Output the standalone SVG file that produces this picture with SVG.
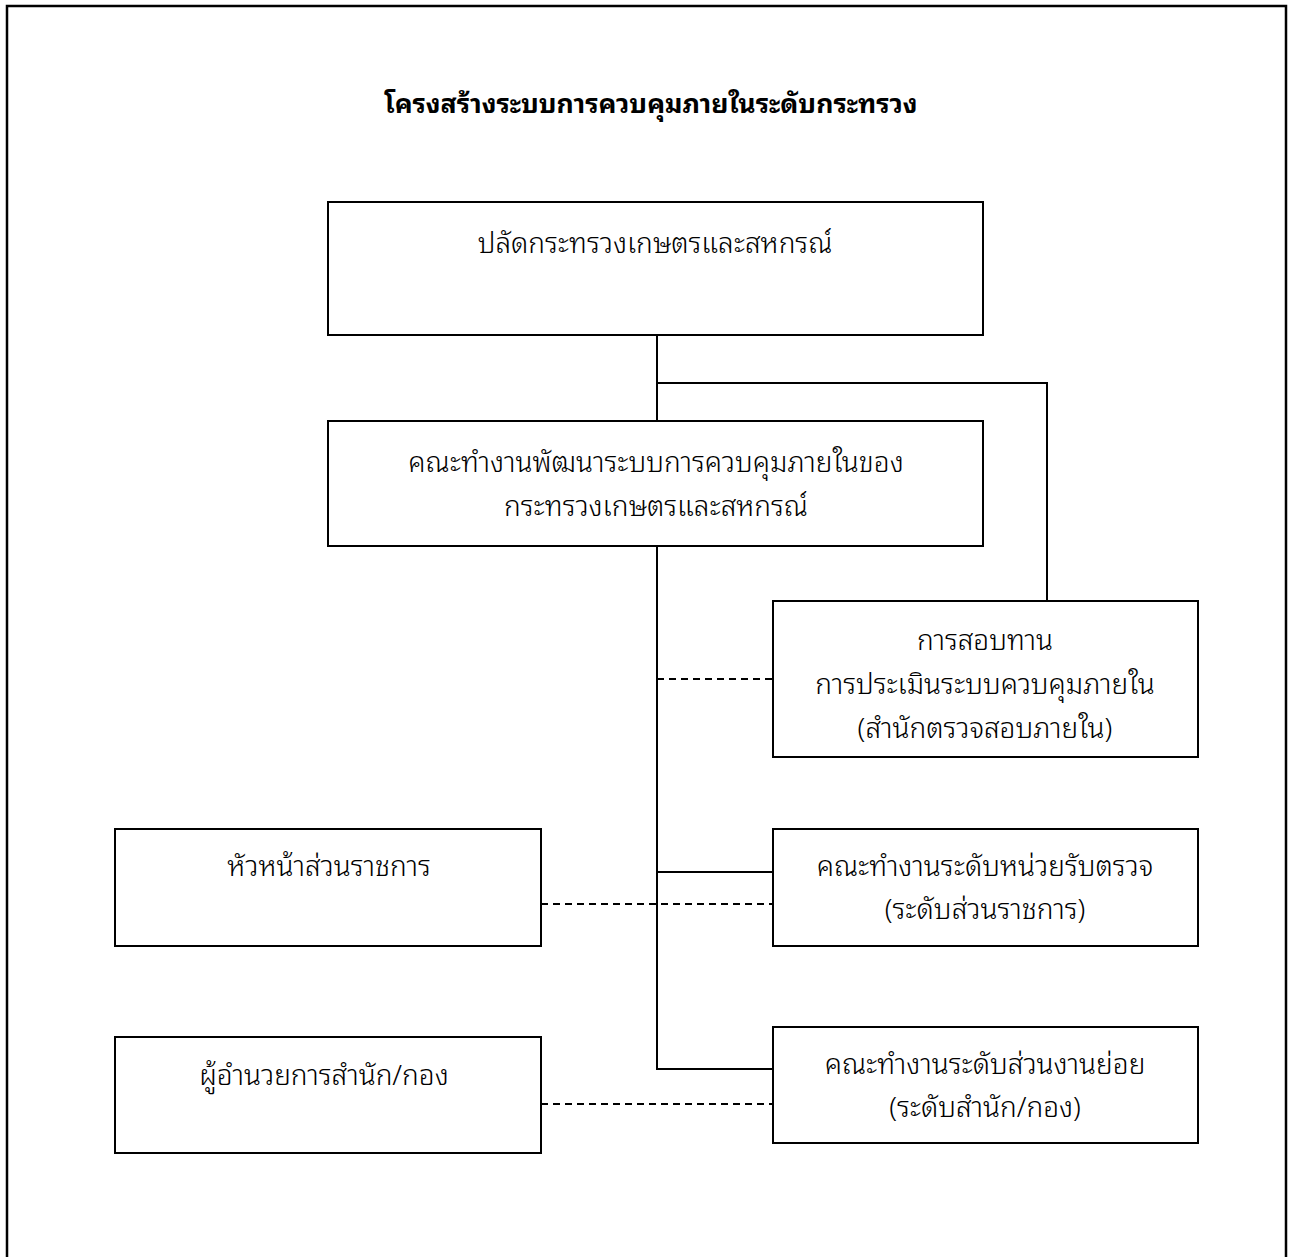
<svg xmlns="http://www.w3.org/2000/svg" width="1290" height="1257" viewBox="0 0 1290 1257">
<style>
.box{fill:#fff;stroke:#000;stroke-width:2}
.ln{fill:none;stroke:#000;stroke-width:2}
.dash{fill:none;stroke:#000;stroke-width:2;stroke-dasharray:7 5}
text{font-family:"Noto Sans Thai Looped","Noto Serif Thai","Noto Sans Thai","Noto Sans","Liberation Sans",sans-serif;font-size:28px;font-weight:300;fill:#000;text-anchor:middle}
.title{font-size:26.6px;font-weight:bold}
</style>
<rect x="0" y="0" width="1290" height="1257" fill="#fff"/>
<path d="M7,1270 V6 H1286 V1270" fill="none" stroke="#000" stroke-width="2.5"/>
<text class="title" x="651" y="113">โครงสร้างระบบการควบคุมภายในระดับกระทรวง</text>
<g id="connectors">
<path class="ln" d="M657,335 V421"/>
<path class="ln" d="M657,383 H1047 V601"/>
<path class="ln" d="M657,546 V1069 H773"/>
<path class="ln" d="M657,872 H773"/>
<path class="dash" d="M657,679 H773"/>
<path class="dash" d="M541,904 H773"/>
<path class="dash" d="M541,1104 H773"/>
</g>
<g id="n1"><rect class="box" x="328" y="202" width="655" height="133"/><text x="655" y="253">ปลัดกระทรวงเกษตรและสหกรณ์</text></g>
<g id="n2"><rect class="box" x="328" y="421" width="655" height="125"/><text x="656" y="472">คณะทำงานพัฒนาระบบการควบคุมภายในของ</text><text x="656" y="516">กระทรวงเกษตรและสหกรณ์</text></g>
<g id="n3"><rect class="box" x="773" y="601" width="425" height="156"/><text x="985" y="650">การสอบทาน</text><text x="985" y="694">การประเมินระบบควบคุมภายใน</text><text x="985" y="738">(สำนักตรวจสอบภายใน)</text></g>
<g id="n4"><rect class="box" x="773" y="829" width="425" height="117"/><text x="985" y="876">คณะทำงานระดับหน่วยรับตรวจ</text><text x="985" y="919">(ระดับส่วนราชการ)</text></g>
<g id="n5"><rect class="box" x="115" y="829" width="426" height="117"/><text x="329" y="876">หัวหน้าส่วนราชการ</text></g>
<g id="n6"><rect class="box" x="773" y="1027" width="425" height="116"/><text x="985" y="1074">คณะทำงานระดับส่วนงานย่อย</text><text x="985" y="1117">(ระดับสำนัก/กอง)</text></g>
<g id="n7"><rect class="box" x="115" y="1037" width="426" height="116"/><text x="324" y="1085">ผู้อำนวยการสำนัก/กอง</text></g>
</svg>
